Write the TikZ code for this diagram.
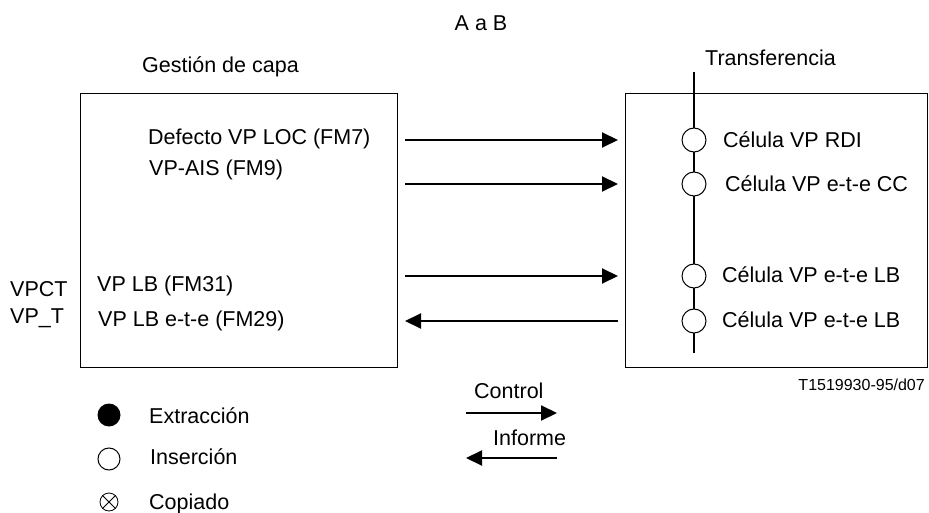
\documentclass[tikz,border=0pt]{standalone}
\usepackage{fontspec}
\setmainfont{Liberation Sans}
\usetikzlibrary{arrows.meta}
\begin{document}
\begin{tikzpicture}[x=1pt,y=-1pt,
  txt/.style={inner sep=0pt, font=\fontsize{21.5}{25}\selectfont},
  small/.style={inner sep=0pt, font=\fontsize{16}{19}\selectfont},
  box/.style={draw, line width=1pt, inner sep=0pt, outer sep=0pt, anchor=north west},
  arr/.style={line width=2pt, -{Triangle[length=16pt,width=15pt]}},
  cell/.style={circle, draw, fill=white, line width=1pt, minimum size=24pt, inner sep=0pt},
]
\useasboundingbox (0,0) rectangle (929,513);

% titles
\node[txt, anchor=base] (title) at (481,30.5) {A a B};
\node[txt, anchor=base west] (gest) at (142,72.5) {Gestión de capa};
\node[txt, anchor=base west] (transf) at (705,65.5) {Transferencia};

% boxes
\node[box, minimum width=317pt, minimum height=273pt] (lbox) at (80,94) {};
\node[box, minimum width=302pt, minimum height=273pt] (rbox) at (625,94) {};

% transfer line
\coordinate (ttop) at (694,72);
\coordinate (tbot) at (694,353);
\draw[line width=2pt] (ttop) -- (tbot);
\node[cell] (c1) at (694,140) {};
\node[cell] (c2) at (694,184) {};
\node[cell] (c3) at (694,276) {};
\node[cell] (c4) at (694,321) {};

% cell labels
\node[txt, anchor=base west] (t1) at (723,147.5) {Célula VP RDI};
\node[txt, anchor=base west] (t2) at (725,191.5) {Célula VP e-t-e CC};
\node[txt, anchor=base west] (t3) at (722,282.5) {Célula VP e-t-e LB};
\node[txt, anchor=base west] (t4) at (722,327.5) {Célula VP e-t-e LB};

% left box labels
\node[txt, anchor=base west] (l1) at (148,144.5) {Defecto VP LOC (FM7)};
\node[txt, anchor=base west] (l2) at (149,175.5) {VP-AIS (FM9)};
\node[txt, anchor=base west] (l3) at (97,291) {VP LB (FM31)};
\node[txt, anchor=base west] (l4) at (98,326.5) {VP LB e-t-e (FM29)};

\node[txt, anchor=base west] (vpct) at (10,296) {VPCT};
\node[txt, anchor=base west] (vpt) at (10,323.5) {VP\_T};

% arrows between boxes
\draw[arr] ([xshift=8pt]lbox.east |- c1) -- ([xshift=-7pt]rbox.west |- c1);
\draw[arr] ([xshift=8pt]lbox.east |- c2) -- ([xshift=-7pt]rbox.west |- c2);
\draw[arr] ([xshift=8pt]lbox.east |- c3) -- ([xshift=-7pt]rbox.west |- c3);
\draw[arr] ([xshift=-7pt]rbox.west |- c4) -- ([xshift=8pt]lbox.east |- c4);

% figure id
\node[small, anchor=base east] (fid) at (925,390) {T1519930-95/d07};

% legend symbols
\node[circle, fill, minimum size=23pt, inner sep=0pt] (lext) at (109,415) {};
\node[circle, draw, line width=1pt, minimum size=22pt, inner sep=0pt] (lins) at (109,459) {};
\node[circle, draw, line width=0.8pt, minimum size=18pt, inner sep=0pt] (lcop) at (109,502) {};
\draw[line width=0.8pt] (lcop.north east) -- (lcop.south west);
\draw[line width=0.8pt] (lcop.north west) -- (lcop.south east);

\node[txt, anchor=base west] (text) at (149,423) {Extracción};
\node[txt, anchor=base west] (tins) at (150,464) {Inserción};
\node[txt, anchor=base west] (tcop) at (149,509) {Copiado};

% legend arrows
\coordinate (ca) at (466,413);
\coordinate (cb) at (557,413);
\coordinate (ia) at (557,458);
\coordinate (ib) at (466,458);
\draw[arr] (ca) -- (cb);
\draw[arr] (ia) -- (ib);
\node[txt, anchor=base west] (tctl) at (474,398.5) {Control};
\node[txt, anchor=base west] (tinf) at (493,445.5) {Informe};
\end{tikzpicture}
\end{document}
